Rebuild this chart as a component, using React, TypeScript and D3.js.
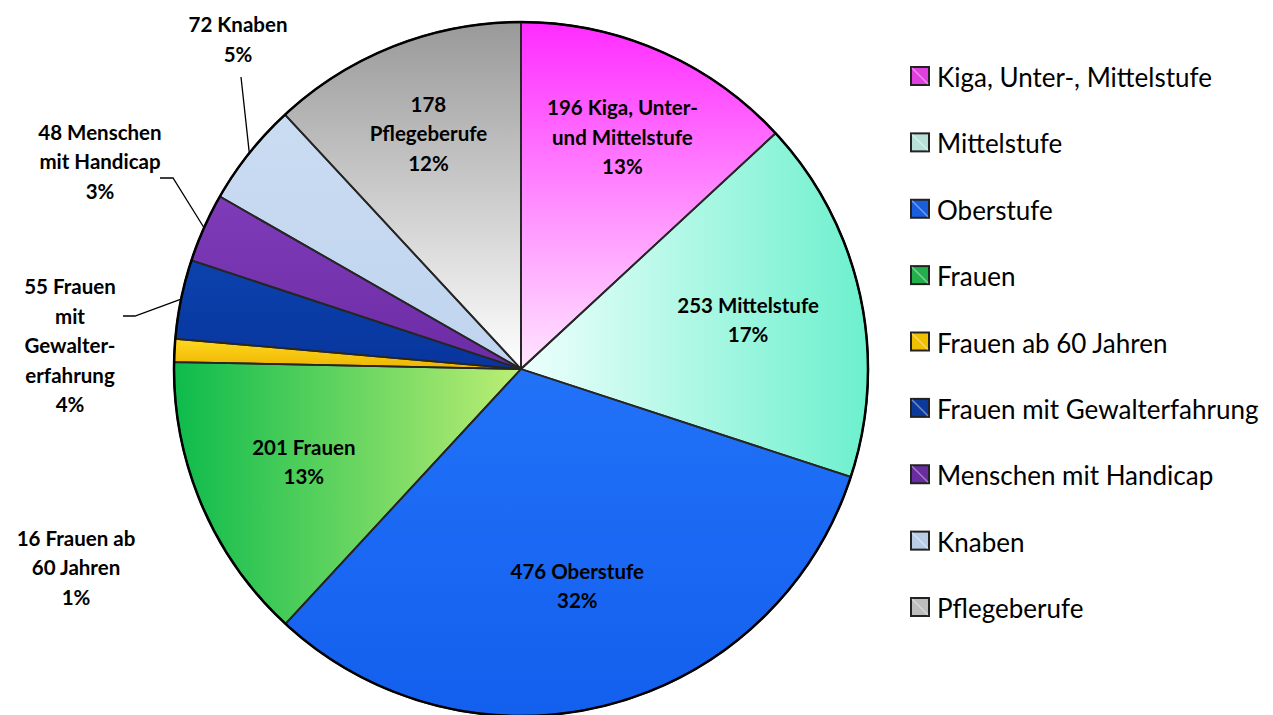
import { useEffect, useRef } from 'react';
import * as d3 from 'd3';

const categories = [
  'Kiga, Unter-, Mittelstufe',
  'Mittelstufe',
  'Oberstufe',
  'Frauen',
  'Frauen ab 60 Jahren',
  'Frauen mit Gewalterfahrung',
  'Menschen mit Handicap',
  'Knaben',
  'Pflegeberufe',
];
const values = [196, 253, 476, 201, 16, 55, 48, 72, 178];
const labelLines = [
  ['Kiga, Unter-', 'und Mittelstufe'],
  ['Mittelstufe'],
  ['Oberstufe'],
  ['Frauen'],
  ['Frauen ab', '60 Jahren'],
  ['Frauen', 'mit', 'Gewalter-', 'erfahrung'],
  ['Menschen', 'mit Handicap'],
  ['Knaben'],
  ['', 'Pflegeberufe'],
];
// gradient: [from, to, direction]
const fills: [string, string, 'v' | 'h'][] = [
  ['#ff2cff', '#ffe6ff', 'v'],
  ['#eefffc', '#6cf0cd', 'h'],
  ['#2272f8', '#135fee', 'v'],
  ['#0dbb4c', '#bdee74', 'h'],
  ['#ffd820', '#eeb400', 'v'],
  ['#0c42ad', '#08359d', 'v'],
  ['#7f3bb8', '#6c2ca5', 'v'],
  ['#cadcf2', '#c0d4ef', 'v'],
  ['#999999', '#ffffff', 'v'],
];
const legendSwatch = ['#e040e0', '#b8e0d8', '#1a5ee0', '#22b04a', '#f0c000', '#0c3a9a', '#6a2ca0', '#b8cce8', '#bdbdbd'];

// label layout: inside labels use radius fraction, outside use offsets from centre
type Lay = { r?: number; dx?: number; dy?: number; leader?: [number, number][] };
const layout: Lay[] = [
  { r: 0.73 },
  { r: 0.67 },
  { r: 0.645 },
  { r: 0.68 },
  { dx: -445, dy: 198 },
  { dx: -451, dy: -24, leader: [[-398, -53], [-386, -53]] },
  { dx: -421, dy: -208, leader: [[-361, -191], [-348, -191]] },
  { dx: -283, dy: -330, leader: [[-280, -292]] },
  { r: 0.73 },
];

const W = 1273;
const H = 715;
const FONT = 'Lato, "Open Sans", sans-serif';

export default function App() {
  const ref = useRef<SVGSVGElement>(null);

  useEffect(() => {
    document.body.style.margin = '0';
    if (!ref.current) return;
    const svg = d3.select(ref.current);
    svg.selectAll('*').remove();

    const cx = 521;
    const cy = 369;
    const R = 347;
    const total = d3.sum(values);
    const data = values.map((v, i) => ({ i, v, name: categories[i] }));

    const pie = d3.pie<(typeof data)[0]>().value((d) => d.v).sort(null);
    const arcs = pie(data);
    const arc = d3.arc<d3.PieArcDatum<(typeof data)[0]>>().innerRadius(0).outerRadius(R);

    const defs = svg.append('defs');
    fills.forEach(([a, b, dir], i) => {
      const g = defs.append('linearGradient').attr('id', `g${i}`)
        .attr('x1', 0).attr('y1', 0)
        .attr('x2', dir === 'h' ? 1 : 0).attr('y2', dir === 'v' ? 1 : 0);
      g.append('stop').attr('offset', '0%').attr('stop-color', a);
      g.append('stop').attr('offset', '100%').attr('stop-color', b);
    });
    arcs.forEach((d, i) => {
      defs.append('clipPath').attr('id', `c${i}`).append('path')
        .attr('transform', `translate(${cx},${cy})`).attr('d', arc(d) as string);
    });

    const g = svg.append('g').attr('transform', `translate(${cx},${cy})`);

    g.selectAll('path.slice')
      .data(arcs)
      .join('path')
      .attr('class', 'slice')
      .attr('d', arc)
      .attr('fill', (d) => `url(#g${d.index})`);

    // bevel highlight along inner edges
    const bev = svg.append('g');
    arcs.forEach((d, i) => {
      bev.append('path')
        .attr('clip-path', `url(#c${i})`)
        .attr('transform', `translate(${cx},${cy})`)
        .attr('d', arc(d) as string)
        .attr('fill', 'none')
        .attr('stroke', '#ffffff')
        .attr('stroke-opacity', 0.3)
        .attr('stroke-width', 13);
      bev.append('path')
        .attr('clip-path', `url(#c${i})`)
        .attr('transform', `translate(${cx},${cy})`)
        .attr('d', arc(d) as string)
        .attr('fill', 'none')
        .attr('stroke', '#000000')
        .attr('stroke-opacity', 0.25)
        .attr('stroke-width', 4);
    });

    g.selectAll('path.edge')
      .data(arcs)
      .join('path')
      .attr('class', 'edge')
      .attr('d', arc)
      .attr('fill', 'none')
      .attr('stroke', '#262626')
      .attr('stroke-width', 1.8)
      .attr('stroke-linejoin', 'round');

    g.append('circle').attr('r', R).attr('fill', 'none')
      .attr('stroke', '#000').attr('stroke-width', 2.5);

    // labels
    const lh = 29.5;
    const lab = svg.append('g').attr('font-family', FONT).attr('font-weight', 700)
      .attr('font-size', 20.5).attr('fill', '#000').attr('text-anchor', 'middle');

    arcs.forEach((d, i) => {
      const l = layout[i];
      const mid = (d.startAngle + d.endAngle) / 2;
      let x: number;
      let y: number;
      if (l.r !== undefined) {
        x = cx + Math.sin(mid) * R * l.r;
        y = cy - Math.cos(mid) * R * l.r;
      } else {
        x = cx + (l.dx as number);
        y = cy + (l.dy as number);
      }
      const pct = `${Math.round((d.data.v / total) * 100)}%`;
      const lines = labelLines[i].slice();
      lines[0] = `${d.data.v}${lines[0] ? ' ' + lines[0] : ''}`;
      lines.push(pct);
      const t = lab.append('text').attr('x', x).attr('y', y - ((lines.length - 1) / 2) * lh)
        .attr('dominant-baseline', 'central');
      lines.forEach((s, k) => {
        t.append('tspan').attr('x', x).attr('dy', k === 0 ? 0 : lh).text(s);
      });

      if (l.leader) {
        const end: [number, number] = [cx + Math.sin(mid) * R, cy - Math.cos(mid) * R];
        const pts = l.leader.map(([px, py]) => [cx + px, cy + py] as [number, number]);
        pts.push(end);
        svg.append('path').attr('d', d3.line()(pts) as string)
          .attr('fill', 'none').attr('stroke', '#000').attr('stroke-width', 1.3);
      }
    });

    // legend
    const ly = d3.scalePoint<string>().domain(categories).range([76, 607]);
    const leg = svg.append('g').attr('font-family', FONT).attr('font-size', 26);
    const rows = leg.selectAll('g').data(categories).join('g')
      .attr('transform', (c) => `translate(911,${ly(c)})`);
    rows.append('rect').attr('x', 0).attr('y', -9).attr('width', 18).attr('height', 18)
      .attr('fill', (_, i) => legendSwatch[i])
      .attr('stroke', '#222').attr('stroke-width', 2);
    rows.append('path').attr('d', 'M1,-8L17,8').attr('stroke', '#fff').attr('stroke-opacity', 0.4)
      .attr('stroke-width', 1.5);
    rows.append('text').attr('x', 26).attr('y', 1).attr('dominant-baseline', 'central')
      .attr('fill', '#000').text((c) => c);
  }, []);

  return <svg ref={ref} width={W} height={H} style={{ display: 'block', background: '#fff' }} />;
}
